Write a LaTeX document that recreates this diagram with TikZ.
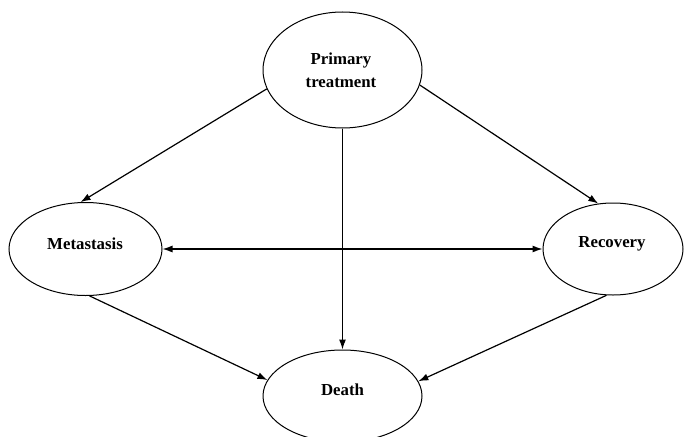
\documentclass[tikz,border=0pt]{standalone}
\usepackage{fontspec}
\setmainfont{Liberation Serif}
\usetikzlibrary{shapes.geometric,arrows.meta}
\begin{document}
\begin{tikzpicture}[x=1pt,y=-1pt,
  state/.style={draw, ellipse, line width=1pt, inner sep=0pt},
  lbl/.style={inner sep=0pt, align=center, font=\bfseries\fontsize{16.8}{23}\selectfont},
  conn/.style={line width=1.2pt, -{Latex[length=10pt,width=7pt]}},
  bconn/.style={line width=1.2pt, {Latex[length=10pt,width=7pt]}-{Latex[length=10pt,width=7pt]}}]
\useasboundingbox (0,0) rectangle (684,436);
\node[state, minimum width=159pt, minimum height=116pt] (p) at (342.5,70) {};
\node[state, minimum width=153pt, minimum height=93pt] (m) at (85.5,249) {};
\node[state, minimum width=140pt, minimum height=92pt] (r) at (613,249) {};
\node[state, minimum width=159pt, minimum height=92pt] (d) at (342.5,396) {};
\node[lbl] (pt) at (341,70) {Primary\\treatment};
\node[lbl] (mt) at (85,244) {Metastasis};
\node[lbl] (rt) at (612,244) {Recovery};
\node[lbl] (dt) at (342.5,390) {Death};
\draw[conn] (p.194.6) -- (m.96.7);
\draw[conn] (p.349) -- (r.108);
\draw[conn] (p.south) -- (d.north);
\draw[bconn] (m.east) -- (r.west);
\draw[conn] (m.275.5) -- (d.168);
\draw[conn] (r.262.6) -- (d.11);
\end{tikzpicture}
\end{document}
